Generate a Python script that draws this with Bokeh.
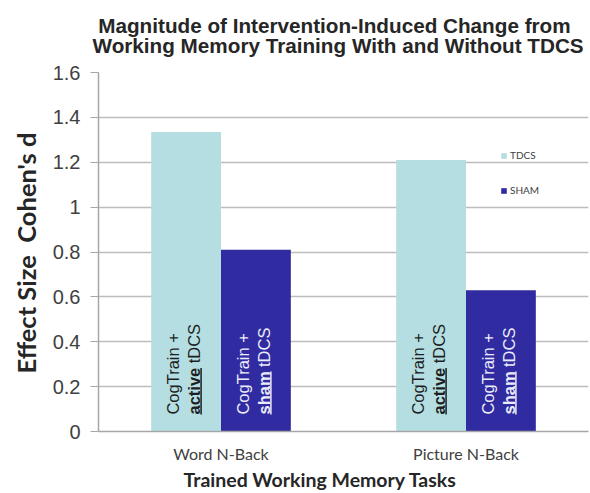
import math
from bokeh.plotting import figure
from bokeh.models import (FactorRange, Range1d, Title, Legend, LegendItem,
                          ColumnDataSource, FixedTicker)
from bokeh.transform import dodge
from bokeh.core.properties import value
from bokeh.embed import file_html
from bokeh.resources import INLINE

# ---- data ----
tasks = ["Word N-Back", "Picture N-Back"]
series = ["TDCS", "SHAM"]
tdcs = [1.335, 1.21]
sham = [0.81, 0.63]
y_ticks = [0, 0.2, 0.4, 0.6, 0.8, 1, 1.2, 1.4, 1.6]
y_tick_labels = ["0", "0.2", "0.4", "0.6", "0.8", "1", "1.2", "1.4", "1.6"]
label_line1 = "CogTrain +"
bold_words = ["active", "sham"]
tail_word = "tDCS"

title_lines = ["Magnitude of Intervention-Induced Change from",
               "Working Memory Training With and Without TDCS"]
x_title = "Trained Working Memory Tasks"
y_title = "Effect Size\u00a0 Cohen's d"

# ---- styling / geometry ----
C_TDCS = "#b4dee2"
C_SHAM = "#302ba0"
W, H = 590, 493
FW, FH = 490, 360
YMAX = 1.6
BW = 0.285
ppx = FW / len(tasks)   # px per factor unit
ppy = FH / YMAX          # px per data unit
FS = 16.5                # bar label font size px

src = ColumnDataSource(dict(task=tasks, tdcs=tdcs, sham=sham))

p = figure(x_range=FactorRange(*tasks), y_range=Range1d(0, YMAX),
           width=W, height=H, output_backend="svg", toolbar_location=None,
           min_border_left=98, min_border_right=2, min_border_top=71,
           min_border_bottom=62)
p.outline_line_color = None
p.background_fill_color = "white"
p.border_fill_color = "white"

r1 = p.vbar(x=dodge("task", -BW / 2, range=p.x_range), top="tdcs", width=BW,
            source=src, fill_color=C_TDCS, line_color=None)
r2 = p.vbar(x=dodge("task", BW / 2, range=p.x_range), top="sham", width=BW,
            source=src, fill_color=C_SHAM, line_color=None)

# ---- rotated labels inside bars ----
y0 = 17 / ppy
for k, (ctr, col, bword) in enumerate([(-BW / 2, "#1e1e1e", bold_words[0]),
                                        (BW / 2, "#ecebfa", bold_words[1])]):
    bold_w = {"active": 2.835, "sham": 2.612}[bword] * FS
    space_w = 0.278 * FS
    x1 = ctr - 13 / ppx
    x2 = ctr + 8 / ppx
    xu = ctr + 15 / ppx
    p.text(x=dodge("task", x1, range=p.x_range), y=y0, text=value(label_line1),
           source=src, angle=math.pi / 2, text_align="left", text_baseline="middle",
           text_font=value("Liberation Sans"), text_font_size=f"{FS}px", text_color=col)
    p.text(x=dodge("task", x2, range=p.x_range), y=y0, text=value(bword),
           source=src, angle=math.pi / 2, text_align="left", text_baseline="middle",
           text_font=value("Liberation Sans"), text_font_size=f"{FS}px",
           text_font_style="bold", text_color=col)
    p.text(x=dodge("task", x2, range=p.x_range), y=y0 + (bold_w + space_w) / ppy,
           text=value(tail_word), source=src, angle=math.pi / 2, text_align="left",
           text_baseline="middle", text_font=value("Liberation Sans"),
           text_font_size=f"{FS}px", text_color=col)
    p.segment(x0=dodge("task", xu, range=p.x_range), x1=dodge("task", xu, range=p.x_range),
              y0=y0, y1=y0 + bold_w / ppy, source=src, line_color=col, line_width=1.5)

# ---- axes ----
p.ygrid.grid_line_color = "#bdbdbd"
p.ygrid.grid_line_width = 1.5
p.xgrid.grid_line_color = None

p.yaxis.ticker = FixedTicker(ticks=y_ticks)
p.yaxis.major_label_overrides = {t: s for t, s in zip(y_ticks, y_tick_labels)}
p.yaxis.major_label_text_font = "Liberation Sans"
p.yaxis.major_label_text_font_size = "20px"
p.yaxis.major_label_text_color = "#404040"
p.yaxis.axis_line_color = "#a6a6a6"
p.yaxis.axis_line_width = 1.5
p.yaxis.major_tick_line_color = "#a6a6a6"
p.yaxis.major_tick_in = 0
p.yaxis.major_tick_out = 8
p.yaxis.minor_tick_line_color = None
p.yaxis.major_label_standoff = 10

p.xaxis.axis_line_color = "#a6a6a6"
p.xaxis.axis_line_width = 1.5
p.xaxis.major_tick_line_color = None
p.xaxis.major_label_text_font = "Lato"
p.xaxis.major_label_text_font_size = "16px"
p.xaxis.major_label_text_color = "#404040"
p.xaxis.major_label_standoff = 6

p.title.text = "\u00a0" + title_lines[0] + "\n" + title_lines[1]
p.title.align = "left"
p.title.offset = -6
p.title.vertical_align = "top"
p.title.text_font = "Liberation Sans"
p.title.text_font_size = "20.7px"
p.title.text_font_style = "bold"
p.title.text_color = "#262626"
p.title.standoff = 27
try:
    p.title.text_line_height = 0.85
except AttributeError:
    pass

p.add_layout(Title(text=x_title, align="left", text_font="Lato",
                   text_font_size="19.5px", text_font_style="bold",
                   text_color="#262626", offset=85, standoff=0), "below")
p.add_layout(Title(text=y_title, align="left", text_font="Lato",
                   text_font_size="25.5px", text_font_style="bold",
                   text_color="#262626", offset=58, standoff=17), "left")

legend = Legend(items=[LegendItem(label=series[0], renderers=[r1]),
                       LegendItem(label=series[1], renderers=[r2])],
                location=(402, 235), label_text_font="Lato",
                label_text_font_size="10px", label_text_color="#404040",
                glyph_width=7, glyph_height=7, label_height=12, spacing=23,
                padding=0, margin=0, border_line_color=None,
                background_fill_alpha=0, label_standoff=3)
p.add_layout(legend, "center")

open("out.html", "w").write(file_html(p, INLINE))
